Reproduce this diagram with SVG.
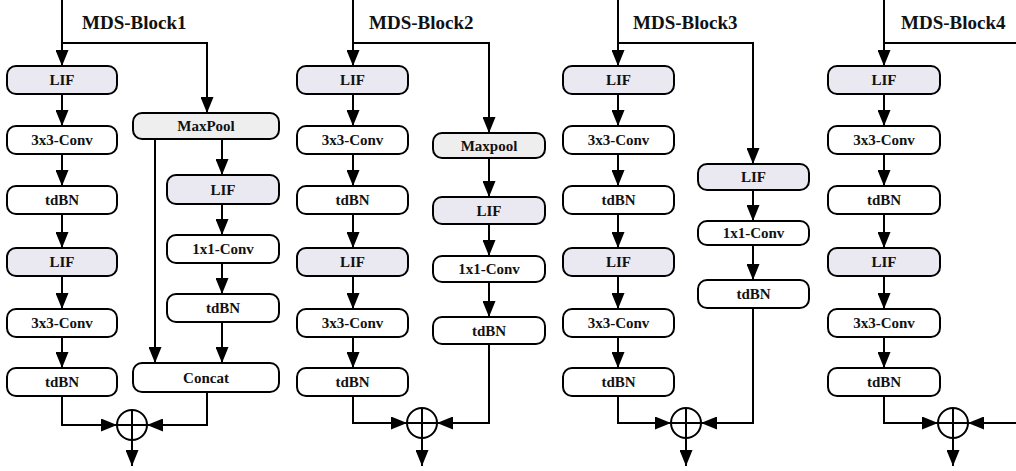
<svg xmlns="http://www.w3.org/2000/svg" width="1016" height="471" viewBox="0 0 1016 471">
<style>
.box{stroke:#000;stroke-width:2;fill:#fff}
.lif{fill:#EAE8F0}
.pool{fill:#EEEEEE}
.lbl{font-family:"Liberation Serif",serif;font-weight:bold;font-size:15px;fill:#111;text-anchor:middle;dominant-baseline:central}
.title{font-family:"Liberation Serif",serif;font-weight:bold;font-size:19px;fill:#111}
.c{fill:none;stroke:#000;stroke-width:2;marker-end:url(#ah)}
.n{fill:none;stroke:#000;stroke-width:2}
.sum{fill:#fff;stroke:#000;stroke-width:2}
</style>
<defs>
<marker id="ah" markerUnits="userSpaceOnUse" markerWidth="16" markerHeight="13" refX="16" refY="6.5" orient="auto">
<path d="M0,0 L16,6.5 L0,13 z" fill="#000"/>
</marker>
</defs>
<g id="titles">
<text class="title" x="82" y="29">MDS-Block1</text>
<text class="title" x="369" y="29">MDS-Block2</text>
<text class="title" x="633" y="29">MDS-Block3</text>
<text class="title" x="901" y="29">MDS-Block4</text>
</g>
<g id="connectors">
<!-- Block1 -->
<path class="c" d="M62,0 V66"/>
<path class="c" d="M62,43 H207 V113"/>
<path class="c" d="M62,94 V126"/>
<path class="c" d="M62,154 V186"/>
<path class="c" d="M62,214 V248"/>
<path class="c" d="M62,276 V309"/>
<path class="c" d="M62,337 V368"/>
<path class="c" d="M62,396 V425 H117"/>
<path class="c" d="M155,139 V363"/>
<path class="c" d="M222,139 V175"/>
<path class="c" d="M222,204 V235"/>
<path class="c" d="M222,263 V294"/>
<path class="c" d="M222,322 V363"/>
<path class="c" d="M207,392 V425 H147"/>
<path class="c" d="M132,440 V466"/>
<!-- Block2 -->
<path class="c" d="M353,0 V66"/>
<path class="c" d="M353,43 H489 V133"/>
<path class="c" d="M353,94 V126"/>
<path class="c" d="M353,154 V186"/>
<path class="c" d="M353,214 V248"/>
<path class="c" d="M353,276 V309"/>
<path class="c" d="M353,337 V368"/>
<path class="c" d="M353,396 V423 H407"/>
<path class="c" d="M489,158 V197"/>
<path class="c" d="M489,224 V256"/>
<path class="c" d="M489,282 V317"/>
<path class="c" d="M489,344 V423 H437"/>
<path class="c" d="M422,438 V466"/>
<!-- Block3 -->
<path class="c" d="M618,0 V66"/>
<path class="c" d="M618,43 H753 V164"/>
<path class="c" d="M618,94 V126"/>
<path class="c" d="M618,154 V186"/>
<path class="c" d="M618,214 V248"/>
<path class="c" d="M618,276 V309"/>
<path class="c" d="M618,337 V368"/>
<path class="c" d="M618,396 V423 H671"/>
<path class="c" d="M753,190 V221"/>
<path class="c" d="M753,245 V280"/>
<path class="c" d="M753,308 V423 H701"/>
<path class="c" d="M686,438 V466"/>
<!-- Block4 -->
<path class="c" d="M884,0 V66"/>
<path class="n" d="M884,43 H1016"/>
<path class="c" d="M884,94 V126"/>
<path class="c" d="M884,154 V186"/>
<path class="c" d="M884,214 V248"/>
<path class="c" d="M884,276 V309"/>
<path class="c" d="M884,337 V368"/>
<path class="c" d="M884,396 V423 H938"/>
<path class="c" d="M1016,423 H968"/>
<path class="c" d="M953,438 V466"/>
</g>
<!-- Block1 nodes -->
<g id="b1-lif1"><rect class="box lif" x="7" y="66" width="110" height="28" rx="9"/><text class="lbl" x="62" y="80">LIF</text></g>
<g id="b1-conv1"><rect class="box" x="7" y="126" width="110" height="28" rx="9"/><text class="lbl" x="62" y="140">3x3-Conv</text></g>
<g id="b1-bn1"><rect class="box" x="7" y="186" width="110" height="28" rx="9"/><text class="lbl" x="62" y="200">tdBN</text></g>
<g id="b1-lif2"><rect class="box lif" x="7" y="248" width="110" height="28" rx="9"/><text class="lbl" x="62" y="262">LIF</text></g>
<g id="b1-conv2"><rect class="box" x="7" y="309" width="110" height="28" rx="9"/><text class="lbl" x="62" y="323">3x3-Conv</text></g>
<g id="b1-bn2"><rect class="box" x="7" y="368" width="110" height="28" rx="9"/><text class="lbl" x="62" y="382">tdBN</text></g>
<g id="b1-pool"><rect class="box pool" x="133" y="113" width="146" height="26" rx="9"/><text class="lbl" x="206" y="126">MaxPool</text></g>
<g id="b1-lif3"><rect class="box lif" x="167" y="175" width="112" height="29" rx="9"/><text class="lbl" x="223" y="189.5">LIF</text></g>
<g id="b1-conv3"><rect class="box" x="167" y="235" width="112" height="28" rx="9"/><text class="lbl" x="223" y="249">1x1-Conv</text></g>
<g id="b1-bn3"><rect class="box" x="167" y="294" width="112" height="28" rx="9"/><text class="lbl" x="223" y="308">tdBN</text></g>
<g id="b1-concat"><rect class="box" x="133" y="363" width="146" height="29" rx="9"/><text class="lbl" x="206" y="377.5">Concat</text></g>
<g id="b1-sum"><circle class="sum" cx="132" cy="425" r="15"/><path class="n" d="M117,425 H147 M132,410 V440"/></g>
<!-- Block2 nodes -->
<g id="b2-lif1"><rect class="box lif" x="297" y="66" width="111" height="28" rx="9"/><text class="lbl" x="352.5" y="80">LIF</text></g>
<g id="b2-conv1"><rect class="box" x="297" y="126" width="111" height="28" rx="9"/><text class="lbl" x="352.5" y="140">3x3-Conv</text></g>
<g id="b2-bn1"><rect class="box" x="297" y="186" width="111" height="28" rx="9"/><text class="lbl" x="352.5" y="200">tdBN</text></g>
<g id="b2-lif2"><rect class="box lif" x="297" y="248" width="111" height="28" rx="9"/><text class="lbl" x="352.5" y="262">LIF</text></g>
<g id="b2-conv2"><rect class="box" x="297" y="309" width="111" height="28" rx="9"/><text class="lbl" x="352.5" y="323">3x3-Conv</text></g>
<g id="b2-bn2"><rect class="box" x="297" y="368" width="111" height="28" rx="9"/><text class="lbl" x="352.5" y="382">tdBN</text></g>
<g id="b2-pool"><rect class="box pool" x="433" y="133" width="112" height="25" rx="9"/><text class="lbl" x="489" y="145.5">Maxpool</text></g>
<g id="b2-lif3"><rect class="box lif" x="433" y="197" width="112" height="27" rx="9"/><text class="lbl" x="489" y="210.5">LIF</text></g>
<g id="b2-conv3"><rect class="box" x="433" y="256" width="112" height="26" rx="9"/><text class="lbl" x="489" y="269">1x1-Conv</text></g>
<g id="b2-bn3"><rect class="box" x="433" y="317" width="112" height="27" rx="9"/><text class="lbl" x="489" y="330.5">tdBN</text></g>
<g id="b2-sum"><circle class="sum" cx="422" cy="423" r="15"/><path class="n" d="M407,423 H437 M422,408 V438"/></g>
<!-- Block3 nodes -->
<g id="b3-lif1"><rect class="box lif" x="563" y="66" width="111" height="28" rx="9"/><text class="lbl" x="618.5" y="80">LIF</text></g>
<g id="b3-conv1"><rect class="box" x="563" y="126" width="111" height="28" rx="9"/><text class="lbl" x="618.5" y="140">3x3-Conv</text></g>
<g id="b3-bn1"><rect class="box" x="563" y="186" width="111" height="28" rx="9"/><text class="lbl" x="618.5" y="200">tdBN</text></g>
<g id="b3-lif2"><rect class="box lif" x="563" y="248" width="111" height="28" rx="9"/><text class="lbl" x="618.5" y="262">LIF</text></g>
<g id="b3-conv2"><rect class="box" x="563" y="309" width="111" height="28" rx="9"/><text class="lbl" x="618.5" y="323">3x3-Conv</text></g>
<g id="b3-bn2"><rect class="box" x="563" y="368" width="111" height="28" rx="9"/><text class="lbl" x="618.5" y="382">tdBN</text></g>
<g id="b3-lif3"><rect class="box lif" x="698" y="164" width="111" height="26" rx="9"/><text class="lbl" x="753.5" y="177">LIF</text></g>
<g id="b3-conv3"><rect class="box" x="698" y="221" width="111" height="24" rx="9"/><text class="lbl" x="753.5" y="233">1x1-Conv</text></g>
<g id="b3-bn3"><rect class="box" x="698" y="280" width="111" height="28" rx="9"/><text class="lbl" x="753.5" y="294">tdBN</text></g>
<g id="b3-sum"><circle class="sum" cx="686" cy="423" r="15"/><path class="n" d="M671,423 H701 M686,408 V438"/></g>
<!-- Block4 nodes -->
<g id="b4-lif1"><rect class="box lif" x="828" y="66" width="112" height="28" rx="9"/><text class="lbl" x="884" y="80">LIF</text></g>
<g id="b4-conv1"><rect class="box" x="828" y="126" width="112" height="28" rx="9"/><text class="lbl" x="884" y="140">3x3-Conv</text></g>
<g id="b4-bn1"><rect class="box" x="828" y="186" width="112" height="28" rx="9"/><text class="lbl" x="884" y="200">tdBN</text></g>
<g id="b4-lif2"><rect class="box lif" x="828" y="248" width="112" height="28" rx="9"/><text class="lbl" x="884" y="262">LIF</text></g>
<g id="b4-conv2"><rect class="box" x="828" y="309" width="112" height="28" rx="9"/><text class="lbl" x="884" y="323">3x3-Conv</text></g>
<g id="b4-bn2"><rect class="box" x="828" y="368" width="112" height="28" rx="9"/><text class="lbl" x="884" y="382">tdBN</text></g>
<g id="b4-sum"><circle class="sum" cx="953" cy="423" r="15"/><path class="n" d="M938,423 H968 M953,408 V438"/></g>
</svg>
